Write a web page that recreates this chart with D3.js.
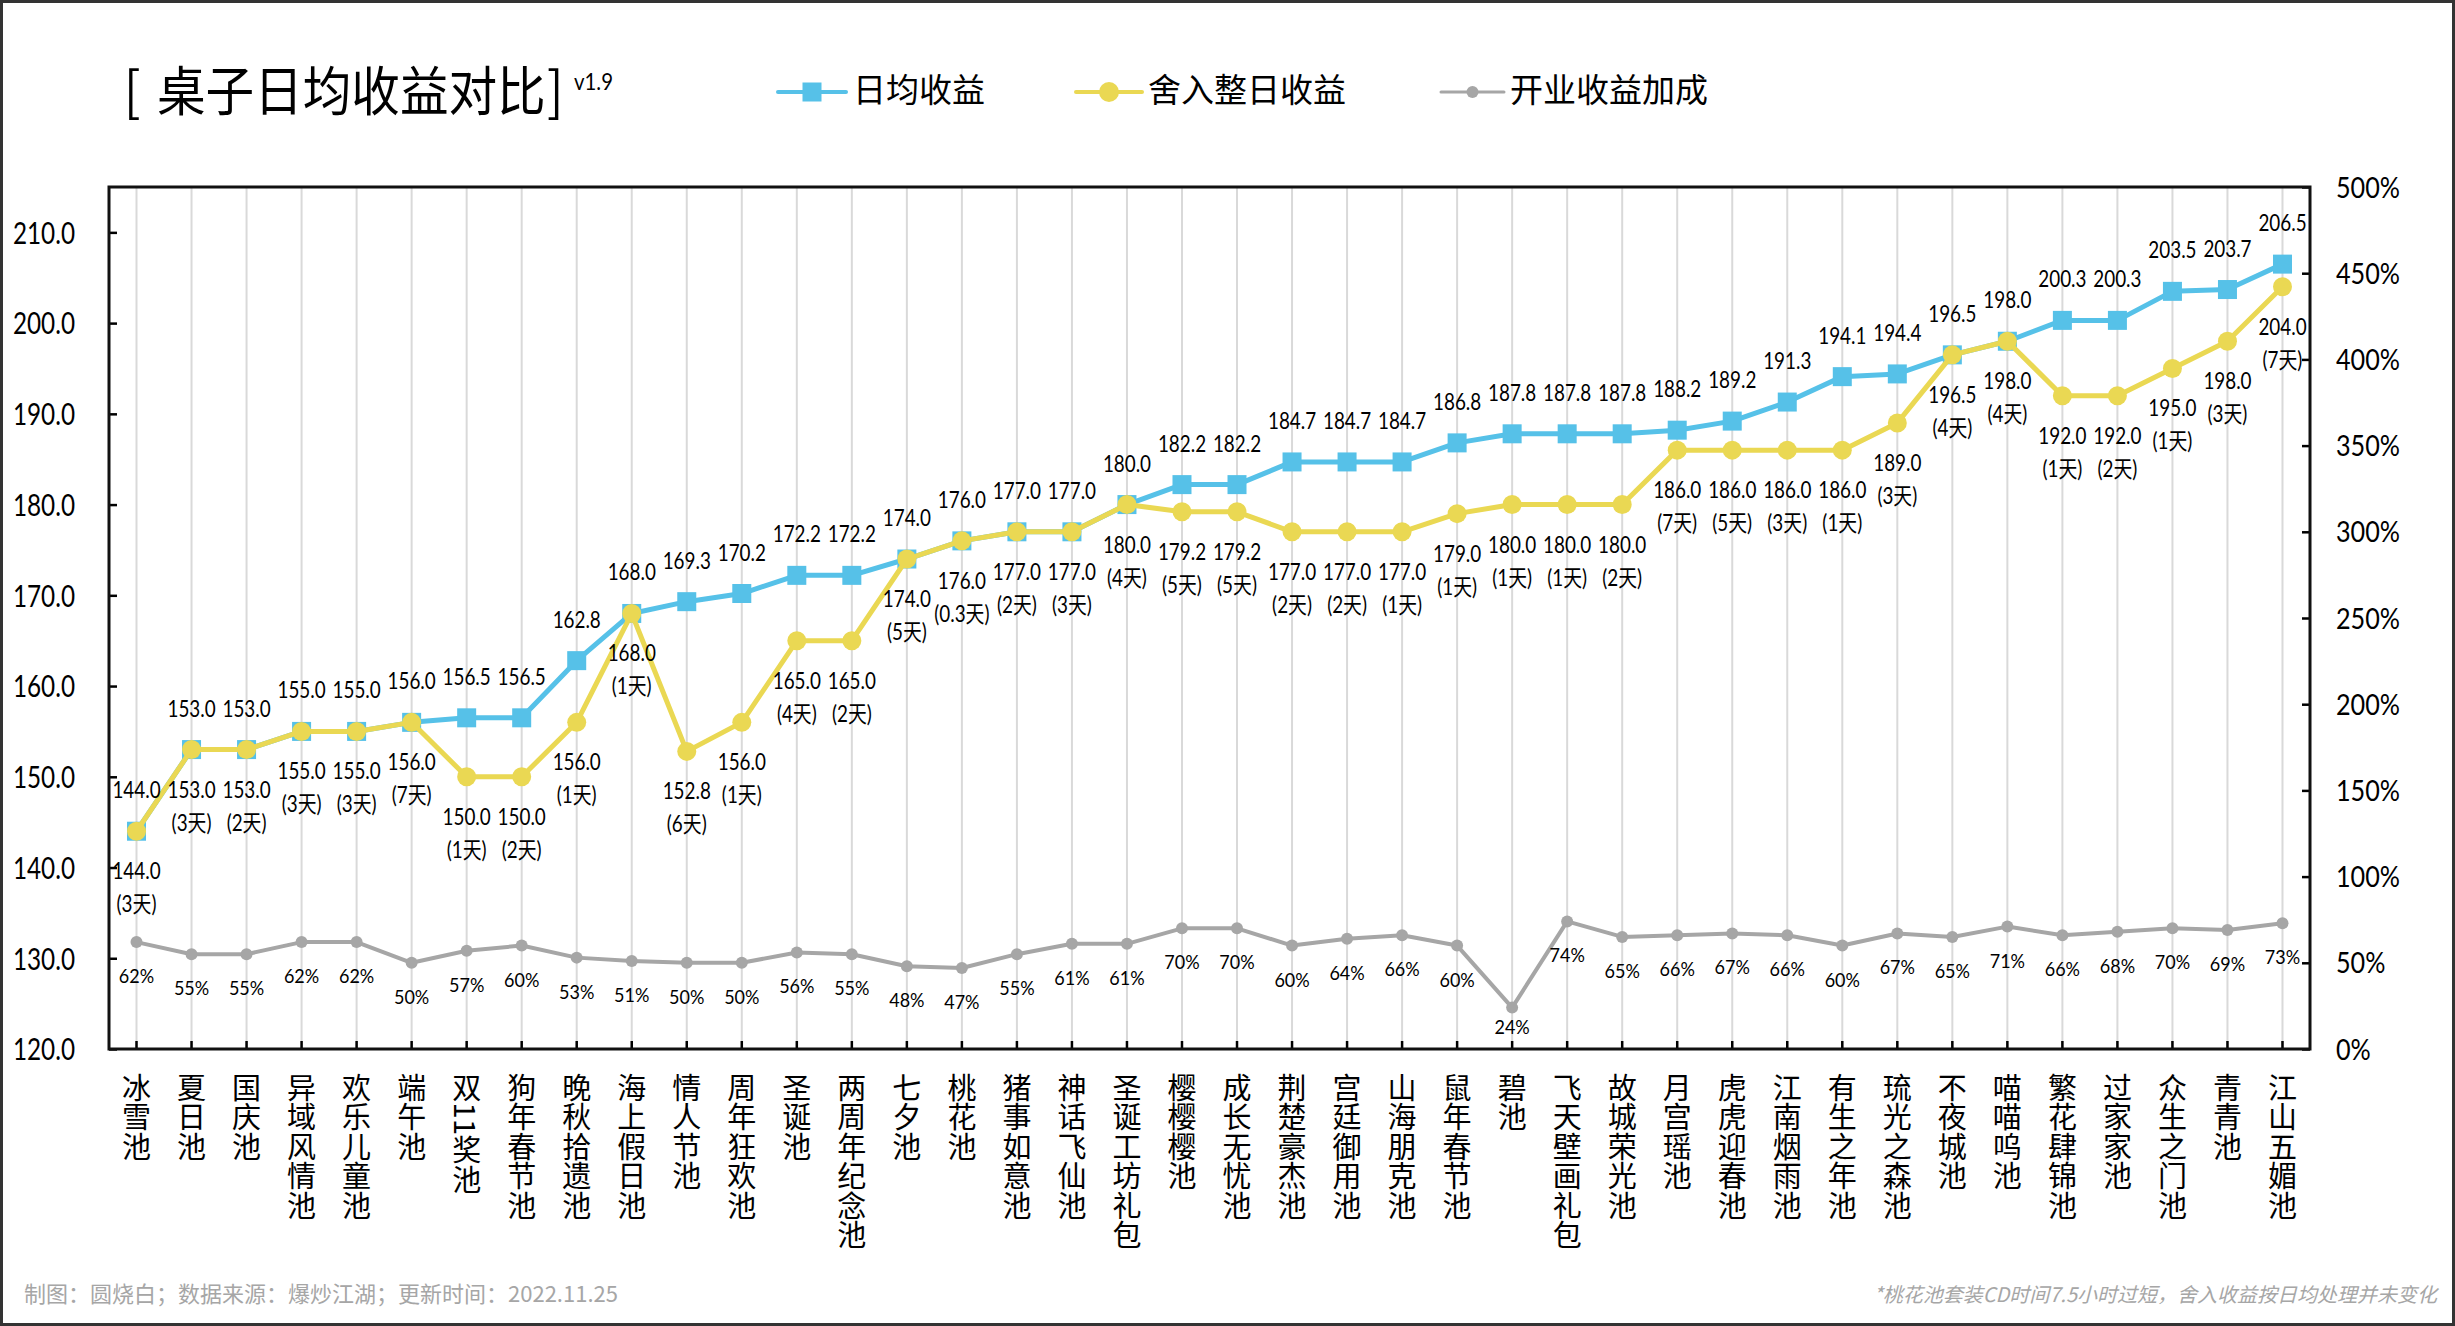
<!DOCTYPE html>
<html><head><meta charset="utf-8">
<script src="https://cdn.jsdelivr.net/npm/d3@7"></script>
<style>html,body{margin:0;padding:0;background:#fff;} svg{display:block;}</style>
</head><body>
<svg id="chart" width="2455" height="1326"></svg>
<script>
// ---------------- data ----------------
const categories = ["冰雪池","夏日池","国庆池","异域风情池","欢乐儿童池","端午池","双11奖池","狗年春节池","晚秋拾遗池","海上假日池",
  "情人节池","周年狂欢池","圣诞池","两周年纪念池","七夕池","桃花池","猪事如意池","神话飞仙池","圣诞工坊礼包","樱樱樱池",
  "成长无忧池","荆楚豪杰池","宫廷御用池","山海朋克池","鼠年春节池","碧池","飞天壁画礼包","故城荣光池","月宫瑶池","虎虎迎春池",
  "江南烟雨池","有生之年池","琉光之森池","不夜城池","喵喵呜池","繁花肆锦池","过家家池","众生之门池","青青池","江山五媚池"];
const dailyIncome = [144.0,153.0,153.0,155.0,155.0,156.0,156.5,156.5,162.8,168.0,
  169.3,170.2,172.2,172.2,174.0,176.0,177.0,177.0,180.0,182.2,
  182.2,184.7,184.7,184.7,186.8,187.8,187.8,187.8,188.2,189.2,
  191.3,194.1,194.4,196.5,198.0,200.3,200.3,203.5,203.7,206.5];
const roundedIncome = [144.0,153.0,153.0,155.0,155.0,156.0,150.0,150.0,156.0,168.0,
  152.8,156.0,165.0,165.0,174.0,176.0,177.0,177.0,180.0,179.2,
  179.2,177.0,177.0,177.0,179.0,180.0,180.0,180.0,186.0,186.0,
  186.0,186.0,189.0,196.5,198.0,192.0,192.0,195.0,198.0,204.0];
const roundedDays = ["3","3","2","3","3","7","1","2","1","1",
  "6","1","4","2","5","0.3","2","3","4","5",
  "5","2","2","1","1","1","1","2","7","5",
  "3","1","3","4","4","1","2","1","3","7"];
const openBonus = [0.62,0.55,0.55,0.62,0.62,0.50,0.57,0.60,0.53,0.51,
  0.50,0.50,0.56,0.55,0.48,0.47,0.55,0.61,0.61,0.70,
  0.70,0.60,0.64,0.66,0.60,0.24,0.74,0.65,0.66,0.67,
  0.66,0.60,0.67,0.65,0.71,0.66,0.68,0.70,0.69,0.73];
const leftTicks = [120,130,140,150,160,170,180,190,200,210];
const rightTicks = [0,0.5,1,1.5,2,2.5,3,3.5,4,4.5,5];
const seriesNames = ["日均收益","舍入整日收益","开业收益加成"];
const titleText = "桌子日均收益对比";
const versionText = "v1.9";
const footLeft = "制图：圆烧白；数据来源：爆炒江湖；更新时间：2022.11.25";
const footRight = "*桃花池套装CD时间7.5小时过短，舍入收益按日均处理并未变化";

// ---------------- styles ----------------
const BLUE = "#56C1E8", YELLOW = "#EAD853", GRAY = "#A6A6A6";
const NUM = "Lato, 'Noto Sans CJK SC', sans-serif";
const CJK = "'Noto Sans CJK SC', sans-serif";
const M = {left:109, right:2310, top:187, bottom:1049};

const svg = d3.select("#chart");
svg.append("rect").attr("x",1.5).attr("y",1.5).attr("width",2452).attr("height",1323)
  .attr("fill","#fff").attr("stroke","#333").attr("stroke-width",3);

const x = d3.scaleBand().domain(categories).range([M.left, M.right]).padding(0);
const cx = d => x(d) + x.bandwidth()/2;
const yL = d3.scaleLinear().domain([120,215]).range([M.bottom, M.top]);
const yR = d3.scaleLinear().domain([0,5]).range([M.bottom, M.top]);

// grid
svg.append("g").selectAll("line").data(categories).join("line")
  .attr("x1",cx).attr("x2",cx).attr("y1",M.top).attr("y2",M.bottom)
  .attr("stroke","#d9d9d9").attr("stroke-width",2);

// axes
const gL = svg.append("g").attr("transform",`translate(${M.left},0)`)
  .call(d3.axisLeft(yL).tickValues(leftTicks).tickSize(-8).tickFormat(d3.format(".1f")));
gL.select(".domain").remove();
gL.selectAll(".tick line").attr("stroke","#000").attr("stroke-width",2.5);
gL.selectAll(".tick text").attr("font-family",NUM).attr("font-size",30).attr("fill","#000")
  .attr("x",-34/0.81).attr("dy","0.36em").attr("transform","scale(0.81,1)");

const gR = svg.append("g").attr("transform",`translate(${M.right},0)`)
  .call(d3.axisRight(yR).tickValues(rightTicks).tickSize(-8).tickFormat(d3.format(".0%")));
gR.select(".domain").remove();
gR.selectAll(".tick line").attr("stroke","#000").attr("stroke-width",2.5);
gR.selectAll(".tick text").attr("font-family",NUM).attr("font-size",28).attr("fill","#000")
  .attr("x",26/0.9).attr("dy","0.36em").attr("transform","scale(0.9,1)");

const gB = svg.append("g").attr("transform",`translate(0,${M.bottom})`)
  .call(d3.axisBottom(x).tickSize(-8).tickFormat(() => ""));
gB.select(".domain").remove();
gB.selectAll(".tick line").attr("stroke","#000").attr("stroke-width",2.5);

// frame
svg.append("rect").attr("x",M.left).attr("y",M.top).attr("width",M.right-M.left).attr("height",M.bottom-M.top)
  .attr("fill","none").attr("stroke","#111").attr("stroke-width",3);

// x labels (vertical writing mode, one text per category)
svg.append("g").selectAll("text").data(categories).join("text")
  .attr("x",cx).attr("y",1073)
  .style("writing-mode","vertical-rl").style("text-orientation","mixed")
  .attr("font-family",CJK).attr("font-size",29).attr("letter-spacing",0.5)
  .attr("fill","#000").text(d => d);

// lines
const lineL = d3.line().x((d,i)=>cx(categories[i])).y(d=>yL(d));
const lineR = d3.line().x((d,i)=>cx(categories[i])).y(d=>yR(d));

svg.append("path").attr("d",lineR(openBonus)).attr("fill","none").attr("stroke",GRAY)
  .attr("stroke-width",4).attr("stroke-linejoin","round");
svg.append("g").selectAll("circle").data(openBonus).join("circle")
  .attr("cx",(d,i)=>cx(categories[i])).attr("cy",d=>yR(d)).attr("r",6).attr("fill",GRAY);

svg.append("path").attr("d",lineL(dailyIncome)).attr("fill","none").attr("stroke",BLUE)
  .attr("stroke-width",5).attr("stroke-linejoin","round");
svg.append("g").selectAll("rect").data(dailyIncome).join("rect")
  .attr("x",(d,i)=>cx(categories[i])-9.5).attr("y",d=>yL(d)-9.5).attr("width",19).attr("height",19).attr("fill",BLUE);

svg.append("path").attr("d",lineL(roundedIncome)).attr("fill","none").attr("stroke",YELLOW)
  .attr("stroke-width",5).attr("stroke-linejoin","round");
svg.append("g").selectAll("circle").data(roundedIncome).join("circle")
  .attr("cx",(d,i)=>cx(categories[i])).attr("cy",d=>yL(d)).attr("r",9.5).attr("fill",YELLOW);

// data labels
function label(g, px, py, str, size, sx, anchor="middle", fam=NUM) {
  return g.append("text").attr("transform",`translate(${px},${py}) scale(${sx},1)`)
    .attr("text-anchor",anchor).attr("font-family",fam).attr("font-size",size).attr("fill","#000").text(str);
}
const lab = svg.append("g");
dailyIncome.forEach((v,i) => label(lab, cx(categories[i]), yL(v)-33, v.toFixed(1), 23, 0.82));
roundedIncome.forEach((v,i) => {
  label(lab, cx(categories[i]), yL(v)+48, v.toFixed(1), 23, 0.82);
  label(lab, cx(categories[i]), yL(v)+81, `(${roundedDays[i]}天)`, 23, 0.82);
});
openBonus.forEach((v,i) => label(lab, cx(categories[i]), Math.min(yR(v)+41, M.bottom-15), d3.format(".0%")(v), 20, 0.9));

// title
const tg = svg.append("text").attr("transform","translate(124,111) scale(0.9,1)")
  .attr("font-family",CJK).attr("font-size",54).attr("fill","#000");
tg.append("tspan").attr("x",0).text("[");
tg.append("tspan").attr("x",(157-124)/0.9).text(titleText);
tg.append("tspan").attr("x",(547-124)/0.9).text("]");
label(svg, 574, 90, versionText, 24, 0.85, "start");

// legend
const legend = [
  {name:seriesNames[0], color:BLUE, x1:778, x2:846, tx:853, w:4, mark:"rect", ms:19},
  {name:seriesNames[1], color:YELLOW, x1:1076, x2:1142, tx:1148, w:4, mark:"circle", ms:10},
  {name:seriesNames[2], color:GRAY, x1:1441, x2:1504, tx:1510, w:3, mark:"circle", ms:6}
];
legend.forEach(l => {
  const g = svg.append("g");
  g.append("line").attr("x1",l.x1).attr("x2",l.x2).attr("y1",92).attr("y2",92)
    .attr("stroke",l.color).attr("stroke-width",l.w).attr("stroke-linecap","round");
  const mx = (l.x1+l.x2)/2;
  if (l.mark==="rect") g.append("rect").attr("x",mx-l.ms/2).attr("y",92-l.ms/2).attr("width",l.ms).attr("height",l.ms).attr("fill",l.color);
  else g.append("circle").attr("cx",mx).attr("cy",92).attr("r",l.ms).attr("fill",l.color);
  g.append("text").attr("x",l.tx).attr("y",102).attr("font-family",CJK).attr("font-size",33).attr("fill","#000").text(l.name);
});

// footers
svg.append("text").attr("x",24).attr("y",1302).attr("font-family",CJK).attr("font-size",22).attr("fill","#A6A6A6").text(footLeft);
svg.append("text").attr("x",2437).attr("y",1302).attr("text-anchor","end").attr("font-family",CJK).attr("font-size",20)
  .attr("font-style","italic").attr("fill","#A6A6A6").text(footRight);
</script>
</body></html>
